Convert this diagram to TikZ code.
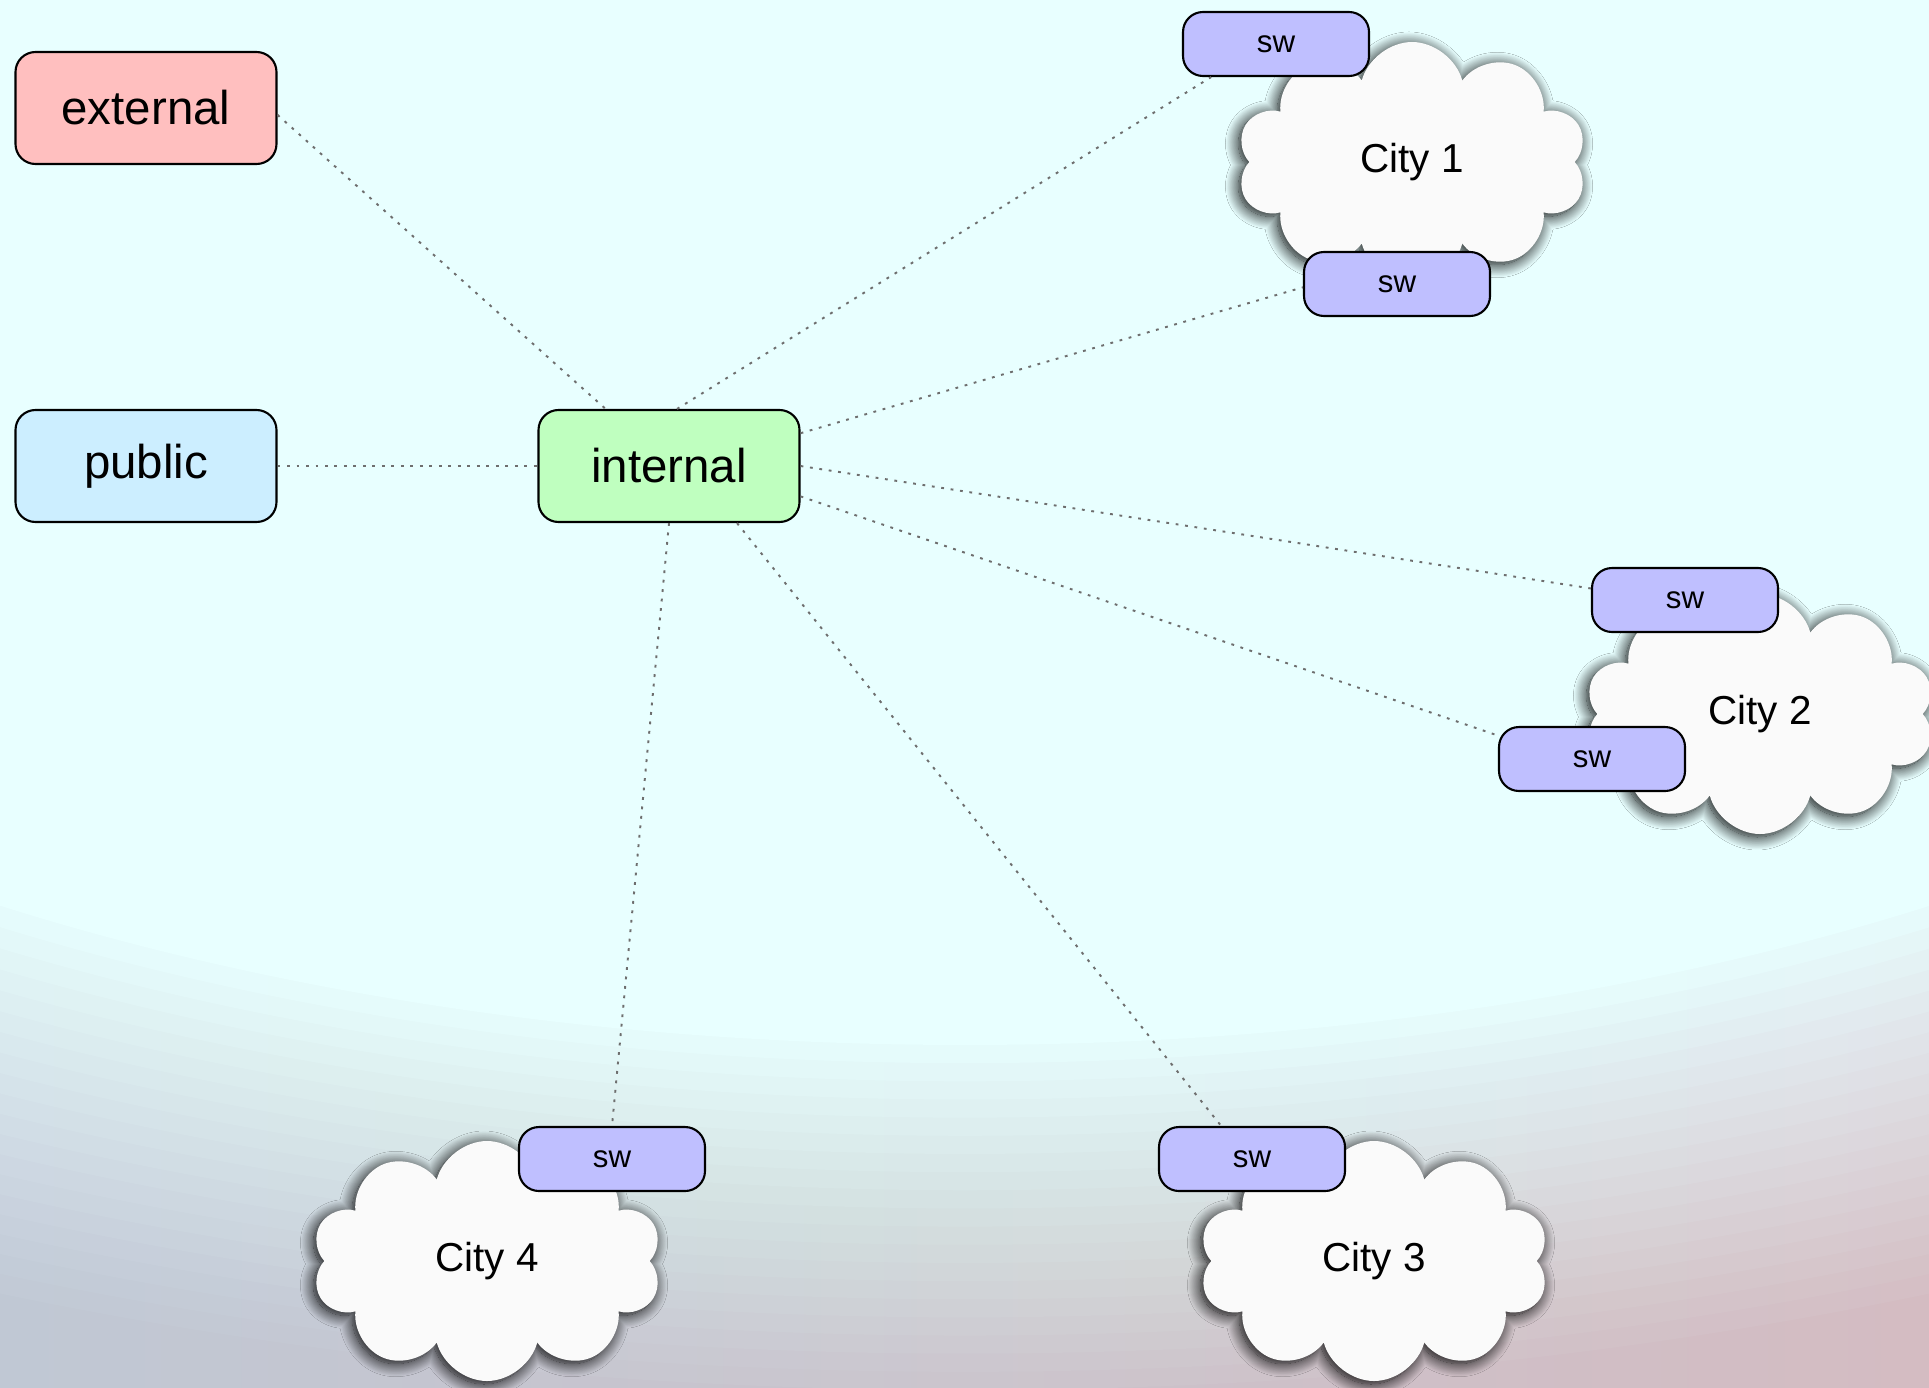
\documentclass[tikz,border=0pt]{standalone}
\usepackage{fontspec}
\setmainfont{Liberation Sans}
\usetikzlibrary{shapes.symbols, shapes.geometric, shadows.blur}

\definecolor{extfill}{RGB}{255,191,191}
\definecolor{pubfill}{RGB}{204,238,255}
\definecolor{intfill}{RGB}{191,255,191}
\definecolor{swfill}{RGB}{191,191,255}
\definecolor{cloudfill}{RGB}{250,250,250}
\definecolor{linkgray}{RGB}{110,110,110}
\definecolor{skytop}{RGB}{232,255,255}
\definecolor{groundl}{RGB}{192,200,212}
\definecolor{groundm}{RGB}{222,206,202}
\definecolor{groundr}{RGB}{212,188,194}

\begin{document}
\begin{tikzpicture}[
        box/.style={draw, line width=0.6pt, rounded corners=0.2cm, minimum width=2.61cm, minimum height=1.12cm, font=\fontsize{13.5}{16}\selectfont},
        swbox/.style={draw, line width=0.6pt, rounded corners=0.2cm, fill=swfill, minimum width=1.86cm, minimum height=0.64cm, font=\fontsize{8.9}{10}\selectfont},
        city/.style={cloud, cloud puffs=10, aspect=1.5, fill=cloudfill, minimum width=3.5cm, minimum height=2.4cm, font=\fontsize{11.5}{14}\selectfont,
          blur shadow={shadow xshift=-0.03cm, shadow yshift=-0.03cm, shadow blur radius=0.13cm, shadow blur steps=20, shadow opacity=100}},
        wire/.style={draw=linkgray, line width=0.55pt, dash pattern=on 0.8pt off 1.9pt}
      ]
        \useasboundingbox (0,0) rectangle (19.29,13.87);
        % sky rings over a tinted ground
        \begin{scope}
          \clip (0,0) rectangle (19.29,13.87);
          \shade[left color=groundl, middle color=groundm, right color=groundr] (0,0) rectangle (19.29,13.87);
          \foreach \i [evaluate=\i as \op using {1/(20-\i)}] in {0,...,19}
            \fill[skytop, opacity=\op] (9.65,12.37) ellipse [x radius=24.9cm-\i*0.363cm, y radius=12.4cm-\i*0.1816cm];
        \end{scope}

        \node[city] (c1) at (14.12,12.25) {City 1};
        \node[city] (c2) at (17.60,6.73) {City 2};
        \node[city] (c3) at (13.74,1.26) {City 3};
        \node[city] (c4) at (4.87,1.26) {City 4};

        \node[box, fill=extfill] (external) at (1.46,12.79) {external};
        \node[box, fill=pubfill] (public) at (1.46,9.21) {public};
        \node[box, fill=intfill] (internal) at (6.69,9.21) {internal};

        \node[swbox] (sw1a) at (12.76,13.43) {sw};
        \node[swbox] (sw1b) at (13.97,11.03) {sw};
        \node[swbox] (sw2a) at (16.85,7.87) {sw};
        \node[swbox] (sw2b) at (15.92,6.28) {sw};
        \node[swbox] (sw3) at (12.52,2.28) {sw};
        \node[swbox] (sw4) at (6.12,2.28) {sw};

        \draw[wire] (external.-3)--(internal.138);
        \draw[wire] (public.east)--(internal.west);
        \draw[wire] (internal.82)--(sw1a.207);
        \draw[wire] (internal.14)--(sw1b.182);
        \draw[wire] (internal.east)--(sw2a.173);
        \draw[wire] (internal.347)--(sw2b.166);
        \draw[wire] (internal.320)--(sw3.133);
        \draw[wire] (internal.south)--(sw4.north);
      \end{tikzpicture}
\end{document}
